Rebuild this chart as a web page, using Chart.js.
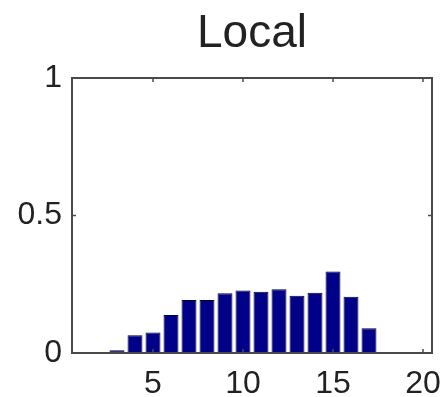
<!DOCTYPE html>
<html>
<head>
<meta charset="utf-8">
<script src="https://cdn.jsdelivr.net/npm/chart.js@4"></script>
<style>
html, body { margin: 0; padding: 0; background: #fff; }
</style>
</head>
<body>
<canvas id="chart" width="448" height="397"></canvas>
<script>
// histogram bins and their fractions
const bins = [1, 2, 3, 4, 5, 6, 7, 8, 9, 10, 11, 12, 13, 14, 15, 16, 17, 18, 19, 20];
const fractions = [0, 0, 0.01, 0.065, 0.075, 0.138, 0.193, 0.193, 0.217, 0.227, 0.223, 0.232, 0.208, 0.219, 0.296, 0.205, 0.09, 0, 0, 0];
const xTicks = [5, 10, 15, 20];
const yTicks = [0, 0.5, 1];
const titleText = 'Local';

const font = 'Arial, "Liberation Sans", sans-serif';

// title centred over the plot box, like matlab does it
const titlePlugin = {
    id: 'boxTitle',
    afterDraw(chart) {
        const { ctx, chartArea: a } = chart;
        ctx.save();
        ctx.fillStyle = '#222';
        ctx.font = '46px ' + font;
        ctx.textAlign = 'center';
        ctx.textBaseline = 'alphabetic';
        ctx.fillText(titleText, (a.left + a.right) / 2, 47);
        ctx.restore();
    }
};

// matlab style box with inward ticks
const boxPlugin = {
    id: 'box',
    afterDatasetsDraw(chart) {
        const { ctx, chartArea: a, scales } = chart;
        const line = (x1, y1, x2, y2) => {
            ctx.beginPath();
            ctx.moveTo(x1, y1);
            ctx.lineTo(x2, y2);
            ctx.stroke();
        };
        ctx.save();
        ctx.strokeStyle = '#4a4a4a';
        ctx.lineWidth = 1.5;
        xTicks.forEach(v => {
            const px = scales.x.getPixelForValue(v);
            line(px, a.bottom, px, a.bottom - 4);
            line(px, a.top, px, a.top + 4);
        });
        yTicks.forEach(v => {
            const py = scales.y.getPixelForValue(v);
            line(a.left, py, a.left + 4, py);
            line(a.right, py, a.right - 4, py);
        });
        ctx.lineWidth = 2;
        ctx.strokeRect(a.left, a.top, a.right - a.left, a.bottom - a.top);
        ctx.restore();
    }
};

new Chart(document.getElementById('chart'), {
    type: 'bar',
    data: {
        datasets: [{
            data: bins.map((b, i) => ({ x: b, y: fractions[i] })),
            backgroundColor: '#000088',
            borderColor: '#000033',
            borderWidth: 1,
            barPercentage: 0.83,
            categoryPercentage: 1
        }]
    },
    options: {
        responsive: false,
        animation: false,
        layout: { padding: { left: 0, right: 16, top: 78, bottom: 0 } },
        plugins: {
            legend: { display: false },
            tooltip: { enabled: false },
            title: { display: false }
        },
        scales: {
            x: {
                type: 'linear',
                offset: false,
                min: 0.5,
                max: 20.5,
                afterBuildTicks: s => { s.ticks = xTicks.map(v => ({ value: v })); },
                afterFit: s => {
                    s.height = 44;
                    s.paddingLeft = 0;
                    s.paddingRight = 0;
                },
                grid: { display: false, drawTicks: false, offset: false },
                border: { display: false },
                ticks: {
                    color: '#222',
                    font: { family: font, size: 32 },
                    padding: 12,
                    maxRotation: 0,
                    autoSkip: false
                }
            },
            y: {
                min: 0,
                max: 1,
                afterBuildTicks: s => { s.ticks = yTicks.map(v => ({ value: v })); },
                afterFit: s => {
                    s.width = 72;
                    s.paddingTop = 0;
                    s.paddingBottom = 0;
                },
                grid: { display: false, drawTicks: false },
                border: { display: false },
                ticks: {
                    color: '#222',
                    font: { family: font, size: 32 },
                    padding: 10,
                    callback: v => String(v)
                }
            }
        }
    },
    plugins: [boxPlugin, titlePlugin]
});
</script>
</body>
</html>
